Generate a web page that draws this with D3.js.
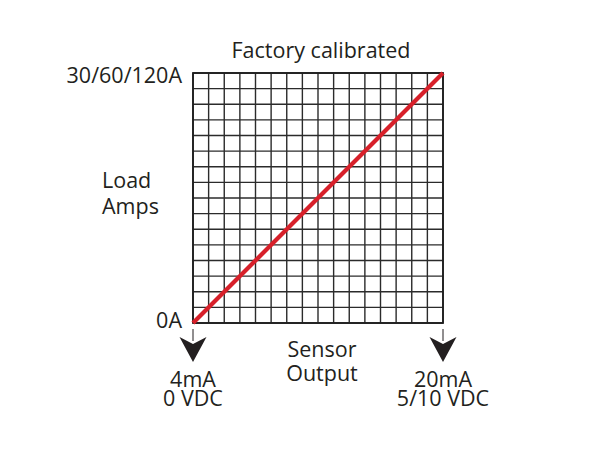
<!DOCTYPE html>
<html><head><meta charset="utf-8">
<script src="https://cdn.jsdelivr.net/npm/d3@7"></script>
<style>body{margin:0;background:#fff}svg{display:block}text{font-family:"Open Sans",sans-serif;fill:#231f20}</style>
</head><body>
<svg id="c" width="600" height="450"></svg>
<script>
const title = "Factory calibrated";
const gridDivisions = 16;
const outputDomain = [0, 1];   // 4mA .. 20mA (normalized)
const loadDomain = [0, 1];     // 0A .. full scale (normalized)
const linePoints = [{out: 0, load: 0}, {out: 1, load: 1}];
const yLabels = [{v: 1, t: "30/60/120A"}, {v: 0, t: "0A"}];
const yTitle = ["Load", "Amps"];
const xTitle = ["Sensor", "Output"];
const xLabels = [{v: 0, lines: ["4mA", "0 VDC"]}, {v: 1, lines: ["20mA", "5/10 VDC"]}];

const svg = d3.select("#c");
const L = 193, R = 443, T = 73, B = 323;
const FS = 21.5;
const x = d3.scaleLinear().domain(outputDomain).range([L, R]);
const y = d3.scaleLinear().domain(loadDomain).range([B, T]);
const gx = d3.scaleLinear().domain([0, gridDivisions]).range([L, R]);
const gy = d3.scaleLinear().domain([0, gridDivisions]).range([B, T]);
const ticks = d3.range(gridDivisions + 1);

const g = svg.append("g");
g.selectAll("line.v").data(ticks).join("line")
  .attr("x1", d => gx(d)).attr("x2", d => gx(d)).attr("y1", T).attr("y2", B)
  .attr("stroke", "#2b2b2b").attr("stroke-width", 1.4);
g.selectAll("line.h").data(ticks).join("line")
  .attr("y1", d => gy(d)).attr("y2", d => gy(d)).attr("x1", L).attr("x2", R)
  .attr("stroke", "#2b2b2b").attr("stroke-width", 1.4);
g.append("rect").attr("x", L).attr("y", T).attr("width", R - L).attr("height", B - T)
  .attr("fill", "none").attr("stroke", "#1e1e1e").attr("stroke-width", 1.8);

svg.append("path").datum(linePoints)
  .attr("d", d3.line().x(d => x(d.out)).y(d => y(d.load)))
  .attr("stroke", "#d7202a").attr("stroke-width", 4.2).attr("fill", "none");

// arrows
xLabels.forEach(d => {
  const cx = x(d.v);
  svg.append("line").attr("x1", cx).attr("x2", cx).attr("y1", B + 6).attr("y2", B + 18)
    .attr("stroke", "#231f20").attr("stroke-width", 1);
  svg.append("path")
    .attr("d", `M${cx},${B + 39} L${cx - 13.5},${B + 14} L${cx},${B + 21} L${cx + 13.5},${B + 14} Z`)
    .attr("fill", "#231f20");
  d.lines.forEach((t, i) => {
    svg.append("text").attr("x", cx).attr("y", 387 + i * 18.5).attr("text-anchor", "middle")
      .attr("font-size", FS).text(t);
  });
});

svg.append("text").attr("x", 321).attr("y", 58).attr("text-anchor", "middle")
  .attr("font-size", FS).text(title);

yLabels.forEach(d => {
  svg.append("text").attr("x", 182).attr("y", d.v === 1 ? 83 : 328).attr("text-anchor", "end")
    .attr("font-size", FS).text(d.t);
});
yTitle.forEach((t, i) => {
  svg.append("text").attr("x", 102).attr("y", 188 + i * 26).attr("font-size", FS).text(t);
});
xTitle.forEach((t, i) => {
  svg.append("text").attr("x", 322).attr("y", 357 + i * 24).attr("text-anchor", "middle")
    .attr("font-size", FS).text(t);
});
</script>
</body></html>
